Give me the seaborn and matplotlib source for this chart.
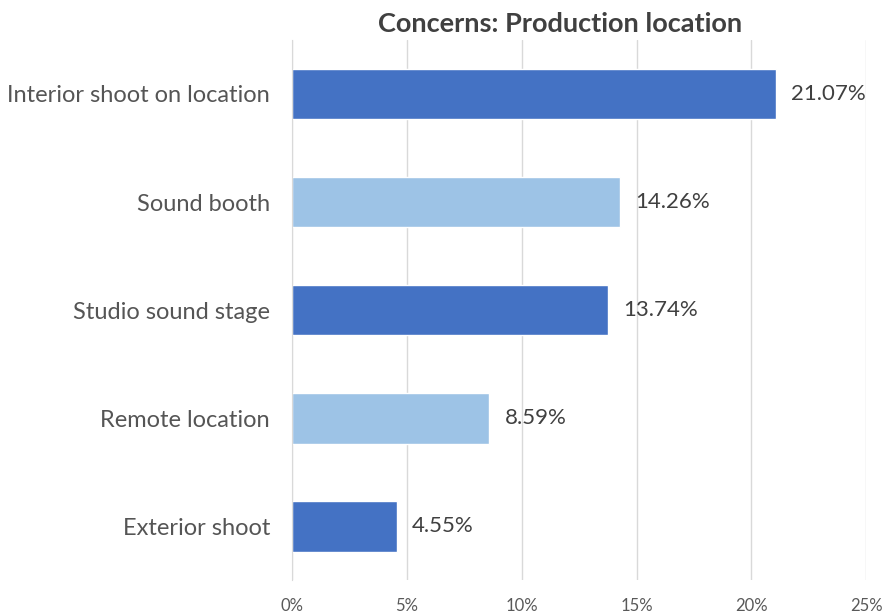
import seaborn as sns
from matplotlib import pyplot as plt
import numpy as np

categories = ['Interior shoot on location', 'Sound booth', 'Studio sound stage',
              'Remote location', 'Exterior shoot']
values = [21.07, 14.26, 13.74, 8.59, 4.55]
bar_colors = ['#4472C4', '#9DC3E6', '#4472C4', '#9DC3E6', '#4472C4']
x_ticks = [0, 5, 10, 15, 20, 25]

sns.set_style('white')
plt.rcParams['font.family'] = ['Lato', 'DejaVu Sans']

fig = plt.figure(figsize=(8.83, 6.14), dpi=100)
ax = fig.add_axes([0.331, 0.055, 0.65, 0.88])

sns.barplot(x=values, y=categories, hue=categories, palette=bar_colors,
            legend=False, width=0.47, saturation=1, ax=ax)

for cont in ax.containers:
    ax.bar_label(cont, fmt='%.2f%%', padding=11, fontsize=16, color='#404040')

ax.set_xlim(0, 25)
ax.set_ylim(4.5, -0.5)
ax.set_xticks(x_ticks)
ax.set_xticklabels([f'{t}%' for t in x_ticks], fontsize=12, color='#595959')
ax.tick_params(axis='x', length=0, pad=13)
ax.tick_params(axis='y', which='major', length=0, pad=16, labelsize=17,
               labelcolor='#555555')
ax.set_yticks(np.arange(-0.5, 5, 1), minor=True)
ax.tick_params(axis='y', which='minor', length=6, color='#D9D9D9', width=1)
ax.set(xlabel=None, ylabel=None)

ax.grid(axis='x', color='#D9D9D9', linewidth=1)
ax.set_axisbelow(True)
for side in ['top', 'right', 'bottom']:
    ax.spines[side].set_visible(False)
ax.spines['left'].set_color('#D9D9D9')

# title sits a bit left of the plot centre in the original
ax.set_title('Concerns: Production location', fontsize=19.5, fontweight='bold',
             color='#404040', pad=6, x=0.467)

plt.savefig('out.png', dpi=100)
